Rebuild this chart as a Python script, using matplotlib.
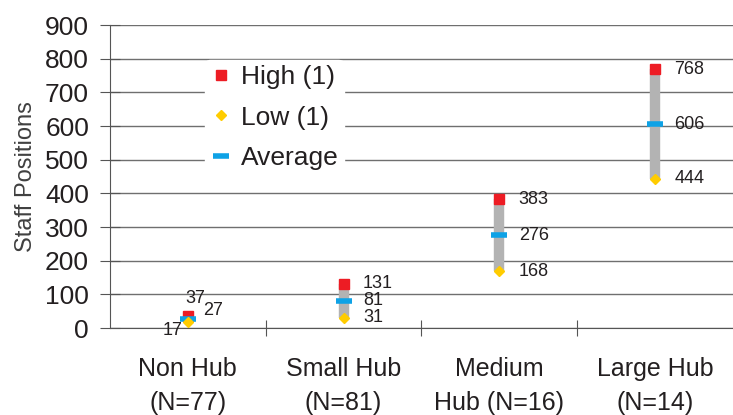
import matplotlib.pyplot as plt
from matplotlib.lines import Line2D

plt.rcParams['font.family'] = ['Liberation Sans', 'DejaVu Sans']

# data
categories = ["Non Hub\n(N=77)", "Small Hub\n(N=81)", "Medium\nHub (N=16)", "Large Hub\n(N=14)"]
high = [37, 131, 383, 768]
low = [17, 31, 168, 444]
average = [27, 81, 276, 606]

fig = plt.figure(figsize=(7.33, 4.15), dpi=100)
ax = fig.add_axes([0.150, 0.2096, 0.85, 0.730])

xs = [i + 0.5 for i in range(len(categories))]

# range bars, then markers
ax.vlines(xs, low, high, color='#b3b3b3', linewidth=7.5, zorder=2)
ax.plot(xs, high, 's', color='#ed1c24', markersize=7, linestyle='none', zorder=3)
ax.plot(xs, average, '_', color='#0ea2e6', markersize=12, markeredgewidth=4,
        linestyle='none', zorder=4)
ax.plot(xs, low, 'D', color='#ffcc00', markersize=5, linestyle='none', zorder=5)

# value labels
lab_kw = dict(textcoords='offset points', fontsize=13, color='#231f20',
              va='center', ha='left')
for i, x in enumerate(xs):
    if i == 0:
        ax.annotate(str(high[i]), (x, high[i]), xytext=(-2, 12), **lab_kw)
        ax.annotate(str(average[i]), (x, average[i]), xytext=(11, 6), **lab_kw)
        ax.annotate(str(low[i]), (x, low[i]), xytext=(-18, -6), **lab_kw)
    else:
        for v in (high[i], average[i], low[i]):
            ax.annotate(str(v), (x, v), xytext=(14, 0), **lab_kw)

ax.set_xlim(0, 4)
ax.set_ylim(0, 900)
ax.set_yticks(range(0, 901, 100))
ax.set_xticks([1, 2, 3])
ax.set_xticklabels([])
ax.yaxis.grid(True, color='#6f6f6f', linewidth=1)
ax.set_axisbelow(True)
for s in ('top', 'right'):
    ax.spines[s].set_visible(False)
ax.spines['left'].set_color('#555555')
ax.spines['bottom'].set_color('#555555')
ax.tick_params(axis='y', direction='inout', length=14, labelsize=19,
               colors='#555555', labelcolor='#231f20', pad=8)
ax.tick_params(axis='x', direction='inout', length=12, colors='#555555')

# category labels
for x, c in zip(xs, categories):
    ax.text(x, -85, c, ha='center', va='top', fontsize=18, color='#231f20',
            linespacing=1.55, transform=ax.transData, clip_on=False)

ax.set_ylabel("Staff Positions", fontsize=17, color='#404040', labelpad=6)

handles = [
    Line2D([], [], marker='s', color='#ed1c24', linestyle='none', markersize=7),
    Line2D([], [], marker='D', color='#ffcc00', linestyle='none', markersize=5),
    Line2D([], [], marker='_', color='#0ea2e6', linestyle='none', markersize=12,
           markeredgewidth=4),
]
leg = ax.legend(handles, ["High (1)", "Low (1)", "Average"], loc='upper left',
                bbox_to_anchor=(205 / 733, 1 - 60 / 415),
                bbox_transform=fig.transFigure, fontsize=19, frameon=True,
                handlelength=0.8, handletextpad=0.35, labelspacing=0.62,
                borderpad=0.2, borderaxespad=0)
leg.get_frame().set_facecolor('white')
leg.get_frame().set_edgecolor('white')
leg.get_frame().set_alpha(1)
for t in leg.get_texts():
    t.set_color('#231f20')

fig.savefig("out.png", dpi=100)
